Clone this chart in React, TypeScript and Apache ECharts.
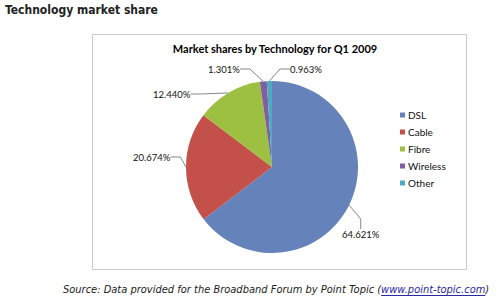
import React, { useEffect, useRef } from "react";
import * as echarts from "echarts";

const categories = ["DSL", "Cable", "Fibre", "Wireless", "Other"];
const shares = [64.621, 20.674, 12.44, 1.301, 0.963];
const colors = ["#6582BB", "#C4504A", "#9DC042", "#7F5FA0", "#4CAAC2"];
const pageTitle = "Technology market share";
const chartTitle = "Market shares by Technology for Q1 2009";
const sourcePrefix = "Source: Data provided for the Broadband Forum by Point Topic (";
const sourceLink = "www.point-topic.com";
const sourceSuffix = ")";

// label placement (layout only)
const labelPos = [
  [342, 229],
  [133, 152],
  [153, 89],
  [208, 64],
  [290, 64],
];

const srcFont = "italic 11px 'DejaVu Sans Condensed', 'DejaVu Sans', sans-serif";

function measure(text: string, font: string) {
  const c = document.createElement("canvas").getContext("2d")!;
  c.font = font;
  return c.measureText(text).width;
}

export default function App() {
  const ref = useRef<HTMLDivElement>(null);
  useEffect(() => {
    document.body.style.margin = "0";
    const chart = echarts.init(ref.current!, null, { renderer: "svg" });
    const srcX = 63;
    const srcY = 289;
    const wPre = measure(sourcePrefix, srcFont);
    const wLink = measure(sourceLink, srcFont);
    chart.setOption({
      animation: false,
      backgroundColor: "#ffffff",
      title: {
        text: chartTitle,
        left: 270,
        textAlign: "center",
        top: 38,
        textStyle: { fontFamily: "Lato", fontWeight: "bold", fontSize: 11, color: "#000" },
      },
      legend: {
        orient: "vertical",
        left: 395,
        top: 105,
        icon: "rect",
        itemWidth: 5,
        itemHeight: 5,
        itemGap: 7,
        textStyle: { fontFamily: "Lato", fontSize: 10, color: "#111", padding: [0, 0, 0, -2] },
        data: categories,
      },
      graphic: [
        {
          type: "rect",
          shape: { x: 92.5, y: 34.5, width: 374, height: 235 },
          style: { fill: "none", stroke: "#c8c8c8", lineWidth: 1 },
          z: -1,
        },
        {
          type: "text",
          x: 5,
          y: 10,
          style: {
            text: pageTitle,
            font: "bold 12px 'DejaVu Sans Condensed', 'DejaVu Sans', sans-serif",
            fill: "#222",
            verticalAlign: "middle",
          },
        },
        {
          type: "text",
          x: srcX,
          y: srcY,
          style: { text: sourcePrefix, font: srcFont, fill: "#222", verticalAlign: "middle" },
        },
        {
          type: "text",
          x: srcX + wPre,
          y: srcY,
          style: { text: sourceLink, font: srcFont, fill: "#2a2aa0", verticalAlign: "middle" },
        },
        {
          type: "line",
          shape: { x1: srcX + wPre, y1: srcY + 6.5, x2: srcX + wPre + wLink, y2: srcY + 6.5 },
          style: { stroke: "#2a2aa0", lineWidth: 1 },
        },
        {
          type: "text",
          x: srcX + wPre + wLink,
          y: srcY,
          style: { text: sourceSuffix, font: srcFont, fill: "#222", verticalAlign: "middle" },
        },
      ],
      series: [
        {
          type: "pie",
          center: [272, 167],
          radius: 86,
          startAngle: 90,
          clockwise: true,
          color: colors,
          data: categories.map((c, i) => ({ name: c, value: shares[i] })),
          label: {
            show: true,
            formatter: (p: any) => p.value.toFixed(3) + "%",
            fontFamily: "Lato",
            fontSize: 9.5,
            color: "#111",
          },
          labelLine: { show: true, length: 10, length2: 10, lineStyle: { color: "#888", width: 1 } },
          labelLayout: (p: any) => ({
            x: labelPos[p.dataIndex][0],
            y: labelPos[p.dataIndex][1],
            align: "left",
            verticalAlign: "top",
          }),
          emphasis: { disabled: true },
        },
      ],
    });
    return () => chart.dispose();
  }, []);
  return <div ref={ref} style={{ width: 500, height: 300 }} />;
}
